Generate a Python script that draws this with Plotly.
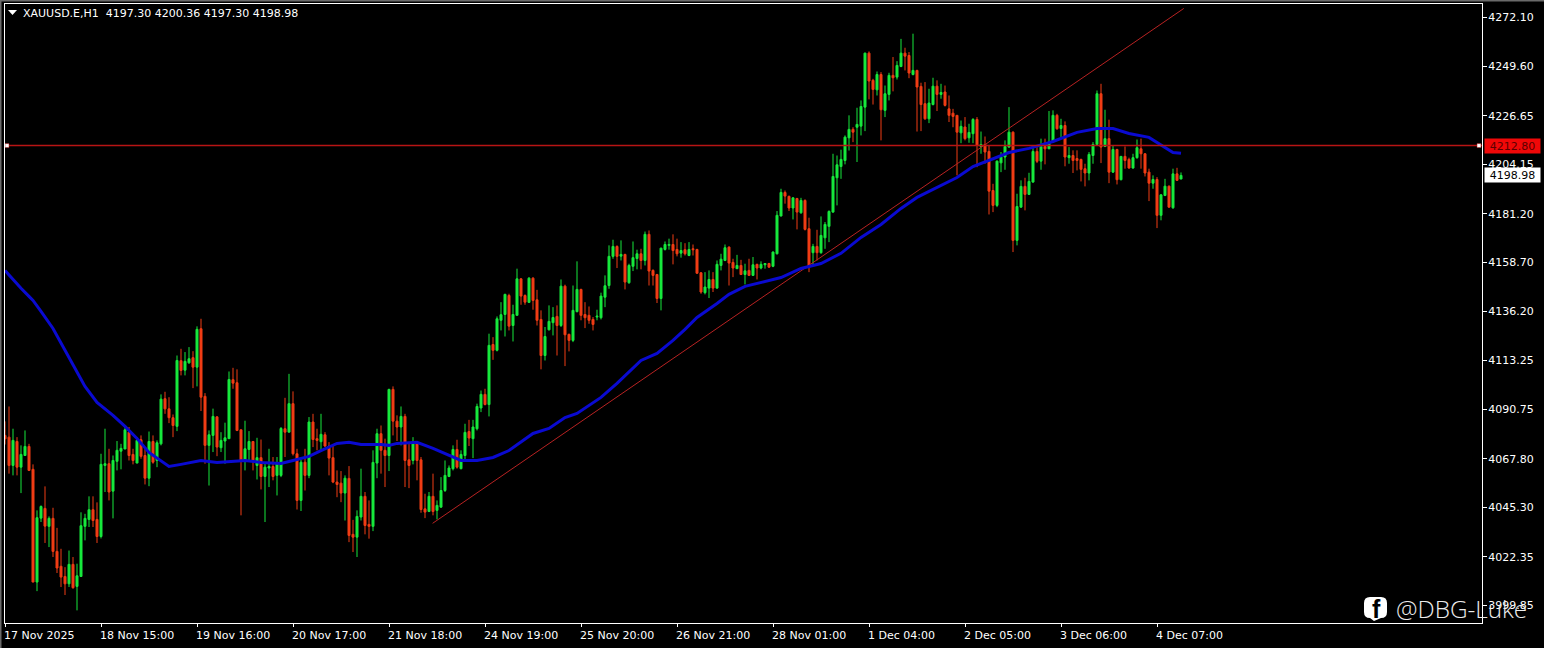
import plotly.graph_objects as go

symbol_text = "XAUUSD.E,H1  4197.30 4200.36 4197.30 4198.98"
watermark = "@DBG-Luke"

opens = [
4078.6,4077.8,4064.7,4075.8,4063.9,4069.3,4073.5,4062.9,4010.7,4040.3,
4044.8,4036.5,4040.2,4024.9,4018.0,4013.3,4009.9,4018.9,4008.7,4013.3,
4036.5,4039.7,4044.2,4039.7,4031.8,4064.7,4065.5,4052.8,4066.6,4071.3,
4072.3,4080.1,4069.8,4065.8,4076.6,4069.3,4058.8,4075.8,4067.0,4074.7,
4095.6,4090.9,4086.8,4082.8,4113.2,4108.8,4112.2,4114.6,4110.2,4128.0,
4096.7,4074.0,4078.6,4087.2,4072.9,4076.0,4077.1,4104.4,4103.0,4081.2,
4067.0,4072.1,4075.8,4064.7,4068.3,4059.6,4063.5,4064.2,4060.1,4060.1,
4081.7,4080.1,4093.3,4070.1,4048.5,4066.2,4060.1,4084.8,4077.1,4075.7,
4078.9,4073.7,4068.3,4057.0,4056.5,4051.9,4058.7,4032.8,4031.5,4040.8,
4050.4,4037.4,4036.5,4065.8,4079.4,4071.7,4069.3,4099.9,4085.2,4082.5,
4087.4,4067.3,4067.0,4074.7,4067.3,4044.6,4043.4,4050.4,4043.9,4045.4,
4053.1,4059.6,4063.2,4072.1,4063.2,4069.3,4080.4,4077.1,4081.7,4091.3,
4097.6,4092.9,4120.7,4118.0,4131.9,4134.6,4143.4,4129.5,4134.2,4151.1,
4143.4,4140.2,4151.4,4141.4,4132.3,4115.6,4127.5,4130.8,4133.7,4129.5,
4147.7,4125.4,4122.6,4135.9,4146.2,4134.6,4134.2,4132.3,4133.4,4133.1,
4142.6,4148.0,4161.5,4166.1,4161.6,4162.4,4149.3,4156.9,4160.5,4162.7,
4159.6,4171.7,4155.0,4153.1,4142.0,4164.7,4166.6,4167.0,4164.7,4163.0,
4164.6,4161.9,4165.0,4164.7,4153.9,4144.7,4146.8,4150.8,4146.8,4157.3,
4159.6,4165.8,4158.7,4155.8,4157.3,4153.1,4155.0,4152.7,4157.8,4156.1,
4157.6,4158.2,4156.9,4162.7,4180.2,4191.1,4189.3,4183.9,4188.3,4181.7,
4187.4,4174.3,4163.2,4166.1,4163.2,4170.1,4175.4,4182.0,4197.9,4203.1,
4205.9,4216.4,4220.3,4221.3,4221.8,4230.6,4255.6,4243.0,4238.6,4245.7,
4229.1,4236.5,4245.3,4244.5,4249.4,4255.6,4254.5,4245.7,4247.6,4240.2,
4232.2,4225.2,4231.8,4240.3,4236.5,4237.6,4229.8,4227.8,4226.8,4218.7,
4221.4,4216.4,4218.3,4224.9,4212.4,4213.3,4210.1,4192.0,4185.1,4204.8,
4207.5,4212.1,4219.0,4168.9,4184.3,4193.9,4190.2,4195.9,4210.1,4205.6,
4212.4,4211.3,4214.4,4226.8,4220.7,4222.1,4207.2,4208.2,4206.8,4206.4,
4202.1,4200.1,4208.2,4213.3,4236.8,4212.4,4216.0,4200.5,4211.0,4197.0,
4207.8,4206.4,4202.4,4207.2,4211.3,4209.0,4200.5,4195.4,4197.1,4180.5,
4189.7,4194.0,4184.0,4199.7,4197.30]

closes = [
4077.0,4064.7,4076.3,4063.9,4069.8,4073.5,4062.4,4010.7,4040.5,4045.7,
4036.6,4040.2,4024.9,4017.2,4013.0,4009.9,4018.9,4008.1,4013.6,4036.8,
4040.2,4044.2,4039.2,4031.8,4065.2,4065.5,4052.4,4067.0,4071.7,4072.6,
4081.2,4069.3,4067.0,4076.3,4068.9,4058.8,4075.8,4066.2,4075.2,4095.4,
4090.9,4086.8,4083.2,4113.3,4108.7,4112.9,4114.1,4110.2,4127.7,4096.3,
4074.0,4078.9,4087.4,4073.2,4076.3,4077.5,4104.5,4102.8,4080.9,4067.0,
4072.4,4075.8,4067.0,4068.3,4059.6,4063.9,4064.2,4059.6,4065.5,4081.8,
4080.1,4093.3,4070.1,4048.5,4066.2,4060.1,4084.8,4076.7,4076.3,4079.1,
4073.7,4068.1,4057.0,4055.9,4051.9,4058.8,4032.3,4031.5,4041.1,4050.4,
4036.9,4036.5,4066.1,4079.4,4071.7,4069.3,4099.9,4085.2,4082.5,4087.4,
4067.0,4064.7,4075.5,4067.0,4044.3,4043.1,4050.4,4043.4,4046.2,4053.1,
4060.1,4063.5,4072.1,4063.9,4069.8,4080.0,4077.4,4082.5,4092.0,4097.6,
4092.9,4120.3,4118.0,4132.6,4134.5,4143.9,4129.2,4134.6,4151.1,4143.1,
4140.3,4151.4,4141.1,4131.9,4115.6,4124.4,4131.4,4133.2,4129.5,4147.7,
4125.2,4122.6,4136.5,4146.2,4134.2,4133.1,4131.9,4130.0,4133.8,4143.1,
4147.9,4161.5,4166.1,4161.5,4162.4,4149.6,4157.3,4160.9,4162.7,4159.6,
4171.7,4154.7,4152.7,4142.0,4165.3,4167.0,4167.0,4164.2,4162.7,4164.2,
4162.7,4164.7,4164.6,4153.7,4145.0,4147.3,4150.8,4146.8,4157.8,4160.2,
4165.5,4158.4,4156.1,4157.3,4153.1,4154.8,4152.7,4157.6,4156.1,4157.8,
4158.2,4156.5,4163.5,4180.5,4191.1,4189.4,4183.9,4188.6,4182.0,4187.4,
4174.0,4156.5,4166.1,4163.2,4171.2,4176.3,4182.3,4198.5,4203.9,4206.4,
4216.7,4220.3,4219.0,4222.6,4230.9,4255.6,4242.7,4238.8,4245.7,4229.4,
4236.8,4245.3,4244.2,4249.9,4255.6,4254.2,4246.4,4247.6,4239.9,4231.8,
4225.2,4232.5,4240.3,4236.5,4237.4,4231.4,4226.8,4226.3,4219.0,4221.7,
4216.0,4218.9,4224.9,4212.9,4213.3,4209.8,4191.7,4185.1,4205.6,4207.5,
4212.4,4219.0,4168.9,4184.6,4193.9,4190.2,4196.2,4210.1,4205.5,4212.4,
4211.3,4214.4,4226.8,4220.6,4222.1,4207.5,4208.2,4205.9,4205.9,4201.8,
4200.1,4208.7,4213.3,4236.8,4212.1,4216.0,4200.5,4211.0,4197.0,4207.8,
4205.9,4202.4,4207.2,4211.8,4209.0,4200.1,4195.4,4197.1,4180.5,4190.0,
4194.0,4184.3,4199.7,4196.7,4198.98]

highs = [
4085.1,4092.0,4081.7,4077.8,4074.0,4080.9,4074.7,4065.2,4043.9,4046.2,
4055.0,4041.1,4045.1,4035.8,4026.1,4017.6,4025.3,4022.3,4019.2,4043.0,
4042.3,4050.4,4050.4,4047.6,4070.1,4081.7,4072.4,4069.3,4076.0,4074.7,
4082.5,4082.5,4072.4,4077.8,4078.6,4073.2,4080.4,4078.6,4076.3,4097.6,
4098.8,4096.3,4088.3,4115.6,4118.7,4117.2,4119.5,4117.6,4129.1,4132.6,
4098.2,4080.9,4091.0,4087.4,4080.1,4084.5,4108.2,4109.9,4109.2,4081.2,
4085.4,4080.6,4076.0,4077.5,4076.7,4065.8,4072.4,4068.6,4068.6,4082.5,
4096.0,4107.1,4099.0,4072.4,4067.3,4072.4,4087.1,4088.6,4081.7,4088.6,
4080.1,4075.5,4074.0,4062.4,4062.1,4060.1,4064.4,4039.5,4043.9,4063.2,
4052.4,4048.5,4071.7,4081.7,4083.2,4077.1,4100.2,4101.3,4087.9,4092.0,
4088.6,4074.7,4077.8,4076.0,4068.6,4051.6,4052.4,4060.9,4048.5,4059.3,
4067.0,4064.7,4074.0,4076.6,4071.7,4084.0,4085.8,4085.8,4093.3,4099.4,
4100.2,4125.7,4124.1,4133.7,4140.3,4144.2,4144.2,4139.1,4155.8,4151.4,
4143.9,4151.9,4151.9,4146.0,4136.5,4128.8,4138.8,4138.0,4138.8,4150.8,
4148.4,4125.7,4148.0,4159.2,4146.5,4140.3,4138.3,4133.4,4136.8,4144.7,
4152.7,4166.6,4169.2,4166.6,4168.9,4162.7,4158.1,4168.4,4164.6,4165.0,
4173.0,4173.5,4155.5,4153.4,4165.5,4168.4,4169.7,4171.7,4169.7,4168.1,
4167.6,4168.1,4167.0,4165.0,4154.2,4154.2,4155.0,4154.2,4159.6,4162.7,
4167.0,4166.1,4160.4,4162.2,4159.9,4158.1,4160.4,4161.2,4158.1,4159.2,
4158.4,4158.5,4163.8,4182.5,4192.8,4192.0,4189.6,4188.9,4188.6,4188.6,
4187.9,4179.4,4167.3,4173.8,4180.0,4177.4,4182.8,4209.0,4208.2,4210.9,
4217.5,4226.8,4221.3,4230.3,4233.7,4255.8,4256.4,4243.7,4247.1,4246.8,
4240.6,4246.5,4253.8,4251.9,4262.2,4258.1,4256.1,4264.6,4247.9,4241.9,
4242.2,4239.1,4244.2,4243.0,4241.4,4240.6,4236.0,4229.8,4226.8,4224.4,
4226.0,4222.9,4225.5,4226.0,4219.3,4217.0,4212.9,4195.1,4205.9,4209.8,
4215.2,4230.6,4219.4,4190.5,4196.7,4197.9,4200.2,4212.1,4212.1,4216.0,
4216.0,4228.8,4229.1,4227.5,4225.2,4224.0,4212.1,4210.6,4210.6,4206.7,
4204.4,4209.8,4214.4,4238.3,4241.4,4229.4,4224.8,4212.9,4211.3,4207.9,
4212.4,4207.2,4209.0,4215.6,4216.0,4209.3,4202.1,4199.0,4198.2,4190.2,
4197.4,4194.3,4202.1,4202.5,4200.36]

lows = [
4074.4,4060.9,4060.1,4060.1,4051.9,4069.3,4062.1,4010.7,4006.5,4038.5,
4028.8,4026.9,4022.3,4014.9,4008.4,4004.7,4008.4,4007.6,3997.6,4013.3,
4030.0,4036.2,4036.2,4028.8,4030.9,4052.4,4048.5,4040.2,4062.4,4062.9,
4072.3,4067.0,4065.2,4065.8,4067.8,4055.9,4055.1,4065.5,4063.9,4074.0,
4088.6,4084.3,4077.8,4080.6,4106.4,4106.4,4111.8,4100.5,4101.3,4089.9,
4065.5,4055.4,4070.9,4069.0,4070.9,4065.5,4077.1,4100.2,4080.6,4041.6,
4062.4,4067.0,4062.4,4058.2,4053.6,4038.5,4054.7,4057.8,4050.8,4059.3,
4068.6,4080.1,4069.3,4044.3,4043.6,4053.1,4058.8,4073.2,4071.7,4071.7,
4073.2,4060.1,4056.5,4050.0,4047.7,4039.2,4029.2,4024.6,4022.3,4039.2,
4032.8,4030.8,4034.3,4058.8,4060.9,4054.7,4062.1,4078.6,4076.0,4074.0,
4054.7,4054.2,4065.2,4057.8,4042.8,4040.3,4043.1,4041.6,4039.7,4045.1,
4052.4,4059.3,4062.4,4063.2,4062.9,4067.3,4073.7,4068.1,4080.9,4089.4,
4092.5,4087.4,4113.6,4117.5,4127.2,4124.4,4127.2,4122.1,4134.2,4139.1,
4139.1,4139.9,4136.8,4129.5,4109.2,4113.3,4127.2,4124.9,4115.6,4128.8,
4110.7,4117.5,4121.8,4135.6,4131.9,4128.3,4130.3,4127.2,4131.9,4132.3,
4138.0,4146.5,4160.4,4156.1,4159.6,4146.2,4148.8,4154.7,4155.5,4155.5,
4157.3,4148.0,4148.0,4139.9,4136.5,4164.2,4164.6,4157.8,4161.5,4160.9,
4161.9,4161.6,4161.9,4153.4,4144.2,4143.9,4142.2,4145.0,4146.5,4155.0,
4159.3,4148.0,4151.9,4155.8,4153.0,4148.5,4152.4,4152.4,4150.8,4155.5,
4155.8,4156.2,4156.5,4162.4,4180.0,4185.9,4182.5,4178.6,4174.0,4181.2,
4173.5,4154.2,4157.3,4159.6,4162.7,4165.0,4168.1,4181.7,4185.1,4197.4,
4204.1,4210.5,4214.4,4205.2,4217.5,4219.5,4234.2,4231.8,4236.0,4215.2,
4226.0,4233.7,4237.9,4243.4,4249.1,4247.6,4244.0,4245.3,4219.3,4219.5,
4224.7,4223.2,4231.4,4228.8,4234.5,4230.9,4223.7,4221.3,4199.0,4213.9,
4215.2,4214.1,4213.9,4202.8,4209.0,4204.4,4180.9,4182.0,4184.3,4200.5,
4201.6,4211.8,4163.5,4166.6,4184.0,4182.8,4189.9,4195.6,4204.7,4201.6,
4204.1,4211.3,4214.3,4220.1,4216.7,4203.2,4204.4,4200.1,4201.3,4196.2,
4193.9,4196.7,4204.4,4212.9,4204.7,4212.1,4195.4,4200.1,4194.8,4196.7,
4202.1,4202.1,4202.1,4206.7,4202.1,4198.5,4187.1,4192.8,4174.6,4178.2,
4189.4,4184.0,4183.5,4196.4,4197.30]

ma_bars = [0,2,4,6,7,9,12,15,17,20,23,27,30,33,36,39,41,44,49,53,56,60,64,69,72,76,79,83,86,89,
           94,96,98,103,107,110,114,118,122,126,132,136,140,143,146,149,153,156,159,163,167,170,173,
           178,181,185,189,194,199,204,209,214,219,224,228,234,238,242,246,251,256,262,268,273,277,
           281,286,289,292,294]
ma_values = [4155.0,4150.8,4146.7,4143.0,4141.1,4136.0,4128.1,4118.0,4111.5,4101.3,4093.9,4087.9,
             4082.8,4077.2,4070.7,4066.6,4064.2,4065.2,4067.0,4066.1,4066.6,4067.0,4066.1,4065.6,
             4067.0,4068.9,4071.6,4074.9,4075.4,4074.4,4074.4,4074.0,4074.9,4075.4,4072.6,4070.3,
             4067.0,4067.0,4068.4,4071.6,4079.5,4081.8,4086.9,4088.8,4092.5,4096.2,4102.7,4108.2,
             4113.3,4116.6,4122.6,4127.7,4133.2,4139.7,4143.9,4147.6,4149.4,4151.7,4155.9,4158.2,
             4162.9,4170.3,4176.3,4183.7,4188.8,4194.3,4198.0,4203.1,4205.9,4209.6,4211.5,4214.7,
             4218.9,4220.7,4220.7,4218.4,4216.6,4212.9,4209.6,4209.2]

trend_bars = [106.9, 294.7]
trend_values = [4037.9, 4276.3]
level_price = 4212.80
last_price = 4198.98

price_ticks = [4272.10,4249.60,4226.65,4204.15,4181.20,4158.70,4136.20,4113.25,4090.75,4067.80,4045.30,4022.35,3999.85]
price_labels = ["4272.10","4249.60","4226.65","4204.15","4181.20","4158.70","4136.20","4113.25","4090.75","4067.80","4045.30","4022.35","3999.85"]
time_ticks = [0,24,48,72,96,120,144,168,192,216,240,264,288]
time_labels = ["17 Nov 2025","18 Nov 15:00","19 Nov 16:00","20 Nov 17:00","21 Nov 18:00","24 Nov 19:00",
               "25 Nov 20:00","26 Nov 21:00","28 Nov 01:00","1 Dec 04:00","2 Dec 05:00","3 Dec 06:00","4 Dec 07:00"]

W, H = 1544, 648
L, R, T, B = 5, 1482, 4, 623
X_RANGE = [(L - 5.0) / 4, (R - 5.0) / 4]
Y_RANGE = [3991.75, 4278.35]
GREEN, RED = "#17e83c", "#f03c14"
FONT = "DejaVu Sans"

def px(x):
    return (x - L) / (R - L)

def py(y):
    return (B - y) / (B - T)

fig = go.Figure()
fig.add_trace(go.Candlestick(
    x=list(range(len(opens))), open=opens, high=highs, low=lows, close=closes,
    increasing=dict(line=dict(color=GREEN, width=1), fillcolor=GREEN),
    decreasing=dict(line=dict(color=RED, width=1), fillcolor=RED),
    whiskerwidth=0, showlegend=False, hoverinfo="skip"))
fig.add_trace(go.Scatter(x=trend_bars, y=trend_values, mode="lines",
                         line=dict(color="#b82222", width=1), showlegend=False, hoverinfo="skip"))
fig.add_trace(go.Scatter(x=ma_bars, y=ma_values, mode="lines",
                         line=dict(color="#0a0ad0", width=3), showlegend=False, hoverinfo="skip"))
fig.add_trace(go.Scatter(x=X_RANGE, y=[level_price, level_price], mode="lines",
                         line=dict(color="#b81414", width=1.5), showlegend=False, hoverinfo="skip"))
fig.add_trace(go.Scatter(x=[X_RANGE[0] + 0.5, X_RANGE[1] - 0.75], y=[level_price, level_price], mode="markers",
                         marker=dict(symbol="square", size=4, color="white", line=dict(color="#a81414", width=0.5)),
                         showlegend=False, hoverinfo="skip"))

shapes = [
    dict(type="rect", xref="paper", yref="paper", x0=px(0), x1=px(W), y0=py(0), y1=py(1.5),
         fillcolor="#6a6a6a", line_width=0, layer="below"),
    dict(type="rect", xref="paper", yref="paper", x0=px(0), x1=px(1.5), y0=py(0), y1=py(H),
         fillcolor="#6a6a6a", line_width=0, layer="below"),
    dict(type="path", xref="paper", yref="paper", fillcolor="white", line_width=0,
         path=f"M {px(8)} {py(10)} L {px(17)} {py(10)} L {px(12.5)} {py(15)} Z"),
    dict(type="path", xref="paper", yref="paper", fillcolor="white", line_width=0,
         path=(f"M {px(1370)} {py(597)} L {px(1381)} {py(597)} Q {px(1387)} {py(597)} {px(1387)} {py(603)} "
               f"L {px(1387)} {py(612)} Q {px(1387)} {py(618)} {px(1381)} {py(618)} L {px(1374)} {py(621)} "
               f"L {px(1370)} {py(618)} Q {px(1364)} {py(618)} {px(1364)} {py(612)} L {px(1364)} {py(603)} "
               f"Q {px(1364)} {py(597)} {px(1370)} {py(597)} Z")),
]

annotations = [
    dict(xref="paper", yref="paper", x=px(21), y=py(13.5), text=symbol_text.replace("  ", "&nbsp;&nbsp;"),
         showarrow=False, xanchor="left", yanchor="middle",
         font=dict(family=FONT, size=11, color="white")),
    dict(xref="paper", yref="y", x=px(1484), y=level_price, text="4212.80", showarrow=False,
         xanchor="left", yanchor="middle", width=55, height=14, bgcolor="#f00808", borderpad=0, align="center",
         font=dict(family=FONT, size=11, color="#5a0000")),
    dict(xref="paper", yref="y", x=px(1484), y=last_price, text="4198.98", showarrow=False,
         xanchor="left", yanchor="middle", width=55, height=14, bgcolor="white", borderpad=0, align="center",
         font=dict(family=FONT, size=11, color="black")),
    dict(xref="paper", yref="paper", x=px(1376.5), y=py(609), text="<b>f</b>", showarrow=False,
         xanchor="center", yanchor="middle", font=dict(family="Liberation Sans", size=25, color="black")),
    dict(xref="paper", yref="paper", x=px(1394), y=py(608), text=watermark, showarrow=False,
         xanchor="left", yanchor="middle", font=dict(family="Open Sans", size=24.3, weight=300, color="#ececec")),
]

fig.update_layout(
    width=W, height=H, autosize=False,
    margin=dict(l=L, r=W - R, t=T, b=H - B, pad=0),
    paper_bgcolor="black", plot_bgcolor="black",
    boxgap=0.5, boxgroupgap=0, showlegend=False, shapes=shapes, annotations=annotations,
    font=dict(family=FONT, size=11, color="white"),
    xaxis=dict(range=X_RANGE, rangeslider=dict(visible=False), showgrid=False, zeroline=False,
               showline=True, mirror=True, linecolor="white", linewidth=1,
               tickmode="array", tickvals=time_ticks, ticktext=time_labels,
               ticks="outside", ticklen=3, tickcolor="white", ticklabelposition="outside right",
               ticklabelshift=-2, ticklabelstandoff=2,
               tickfont=dict(family=FONT, size=11, color="white")),
    yaxis=dict(range=Y_RANGE, side="right", showgrid=False, zeroline=False,
               showline=True, mirror=True, linecolor="white", linewidth=1,
               tickmode="array", tickvals=price_ticks, ticktext=price_labels,
               ticks="outside", ticklen=4, tickcolor="white", ticklabelstandoff=-1,
               tickfont=dict(family=FONT, size=11, color="white")),
)

fig.write_html("out.html", config=dict(displayModeBar=False),
               post_script="document.body.style.margin='0';document.documentElement.style.overflow='hidden';")
